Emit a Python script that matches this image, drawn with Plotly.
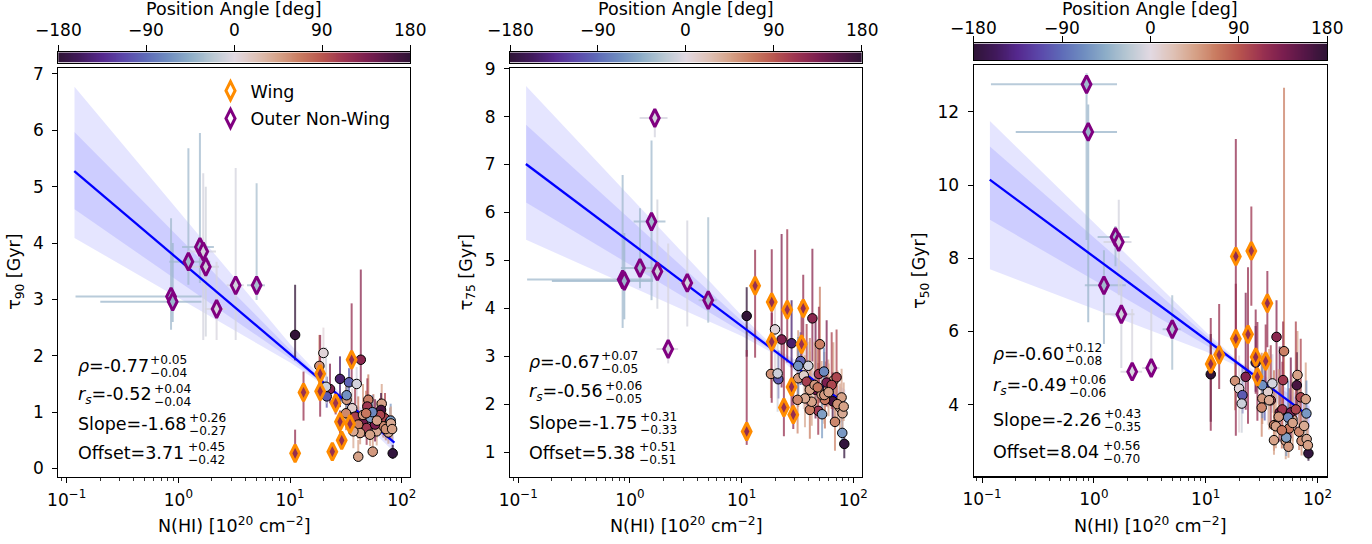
import numpy as np
import plotly.graph_objects as go

W, H = 1372, 544
# positions below are given in screenshot pixels (page body margin removed)
OFFX, OFFY = 0, 0

# ---------------- colour map (twilight_shifted) ----------------
CMAP_POS = [0.0, 0.0625, 0.125, 0.1875, 0.25, 0.3125, 0.375, 0.4375, 0.5,
            0.5625, 0.625, 0.6875, 0.75, 0.8125, 0.875, 0.9375, 1.0]
CMAP_HEX = ['#2f1436', '#41195c', '#55288e', '#5b48aa', '#5e6bb8', '#6f8dc0',
            '#8eaec8', '#b8c8d3', '#e2d9e2', '#dfc3b8', '#d6a288', '#c97b60',
            '#b8554e', '#9c3350', '#7b1e4f', '#541646', '#2f1436']

# ---------------- data: circles (all other sight-lines) ----------------
circ_nhi = [11.1, 18.3, 19.9, 22.8, 21.3, 21.0, 28.0, 33.7, 39.5, 43.0,
            32.1, 36.0, 50.2, 49.2, 66.2, 65.3, 38.2, 45.9, 55.7, 70.8,
            78.5, 48.5, 40.8, 42.4, 59.7, 68.5, 75.9, 52.0, 36.9, 40.8,
            55.0, 83.0, 31.7, 57.7, 64.0, 79.6, 32.1, 52.5, 54.6, 45.0,
            72.0, 60.0, 48.0, 80.0, 82.0]
circ_pa = [178, 55, 5, 130, -100, -12, -150, -95, -8, 125,
           50, 12, 65, 110, 45, 165, 105, 140, 70, 100,
           45, 110, 65, 45, 40, 60, 40, 45, 40, 45,
           50, -175, 60, 135, 100, -60, -65, -55, -70, 50,
           55, 45, 70, 40, 45]
circ_t90 = [2.37, 1.82, 2.05, 1.41, 1.28, 1.45, 1.59, 1.53, 1.50, 1.93,
            1.22, 1.07, 1.22, 1.10, 1.15, 1.04, 0.92, 0.86, 0.92, 0.89,
            0.83, 0.72, 0.78, 0.63, 0.66, 0.75, 0.64, 0.60, 0.66, 0.21,
            0.30, 0.27, 0.98, 0.78, 0.95, 0.85, 1.30, 0.90, 1.00, 0.95,
            0.70, 0.85, 0.98, 0.80, 0.70]
circ_t90_lo = [0.45, 0.35, 0.55, 0.25, 0.20, 0.30, 0.50, 0.20, 0.35, 0.45,
               0.20, 0.25, 0.30, 0.25, 0.30, 0.20, 0.25, 0.30, 0.35, 0.20,
               0.30, 0.30, 0.25, 0.20, 0.25, 0.20, 0.20, 0.20, 0.30, 0.05,
               0.10, 0.10, 0.30, 0.30, 0.25, 0.20, 0.25, 0.25, 0.25, 0.25,
               0.20, 0.30, 0.20, 0.20, 0.20]
circ_t90_hi = [0.89, 0.55, 0.45, 0.45, 0.35, 0.70, 0.40, 0.25, 0.30, 1.60,
               0.30, 0.35, 0.45, 0.50, 0.35, 0.30, 0.50, 0.35, 0.40, 0.45,
               0.25, 0.40, 0.50, 0.30, 0.35, 0.30, 0.25, 0.30, 0.40, 0.30,
               0.30, 0.15, 0.55, 0.45, 0.30, 0.30, 0.30, 0.30, 0.30, 0.55,
               0.30, 0.35, 0.40, 0.30, 0.25]
circ_t75 = [3.84, 2.63, 3.56, 3.35, 2.52, 2.64, 3.27, 2.90, 2.80, 3.79,
            2.54, 2.60, 3.25, 2.63, 2.49, 2.06, 2.47, 2.30, 2.09, 2.56,
            2.14, 1.86, 1.88, 2.05, 2.33, 1.63, 1.93, 2.20, 2.12, 2.30,
            2.19, 1.17, 2.09, 2.45, 2.40, 1.40, 2.80, 1.79, 2.68, 2.40,
            2.00, 2.25, 2.35, 1.81, 1.95]
circ_t75_lo = [0.85, 0.50, 0.90, 1.00, 0.40, 0.80, 0.50, 0.50, 0.60, 0.90,
               0.60, 0.70, 0.70, 0.60, 0.60, 0.40, 0.50, 0.60, 0.60, 0.50,
               0.50, 0.50, 0.60, 0.50, 0.40, 0.60, 0.50, 0.50, 0.60, 0.50,
               0.60, 0.30, 0.70, 0.50, 0.50, 0.30, 0.60, 0.50, 0.60, 0.50,
               0.40, 0.50, 0.50, 0.30, 0.30]
circ_t75_hi = [0.60, 1.00, 0.60, 2.20, 0.60, 0.70, 0.90, 0.60, 0.50, 1.45,
               1.00, 0.60, 1.20, 1.40, 0.80, 0.60, 1.20, 1.50, 0.80, 1.00,
               0.60, 1.00, 1.50, 0.80, 0.60, 0.80, 0.50, 0.70, 0.90, 0.80,
               0.90, 0.20, 1.20, 1.30, 1.10, 0.30, 0.60, 0.60, 0.50, 0.90,
               0.70, 0.60, 1.00, 0.40, 0.50]
circ_t50 = [4.83, 4.65, 4.44, 4.76, 4.26, 4.03, 5.15, 4.17, 4.58, 5.85,
            4.17, 4.35, 5.46, 4.67, 4.81, 4.53, 4.12, 3.79, 3.35, 4.20,
            4.15, 3.87, 3.44, 3.41, 3.60, 3.26, 3.42, 3.01, 4.12, 3.03,
            2.85, 2.67, 3.92, 3.79, 3.87, 3.76, 4.53, 3.10, 3.65, 3.67,
            3.01, 3.50, 3.30, 3.06, 2.89]
circ_t50_lo = [1.30, 0.80, 1.20, 0.90, 0.50, 0.80, 0.80, 0.60, 0.80, 1.20,
               0.70, 0.90, 0.90, 0.80, 0.80, 0.60, 0.70, 0.80, 0.60, 0.80,
               0.70, 0.70, 0.70, 0.60, 0.60, 0.50, 0.50, 0.50, 0.80, 0.40,
               0.30, 0.20, 0.80, 0.70, 0.70, 0.60, 0.90, 0.50, 0.80, 0.60,
               0.40, 0.60, 0.50, 0.30, 0.30]
circ_t50_hi = [1.10, 1.00, 0.90, 2.30, 0.80, 1.00, 1.00, 0.90, 0.80, 1.00,
               1.10, 0.80, 7.20, 1.60, 1.20, 0.90, 1.50, 1.80, 1.10, 1.60,
               1.00, 1.30, 1.50, 1.00, 1.20, 1.20, 0.80, 0.90, 1.40, 1.00,
               0.80, 0.30, 1.50, 1.50, 2.40, 0.90, 0.60, 0.80, 1.00, 1.30,
               0.80, 1.00, 1.20, 0.60, 0.60]

# ---------------- data: Wing ----------------
wing_nhi = [11.1, 13.2, 18.6, 18.6, 25.6, 35.6, 34.4, 28.0, 23.9, 29.0]
wing_pa = [118, 115, 120, 118, 112, 118, 115, 120, 116, 118]
wing_t90 = [0.27, 1.35, 1.68, 1.37, 1.16, 1.93, 0.79, 0.83, 0.30, 0.50]
wing_t90_lo = [0.11, 0.50, 0.30, 0.45, 0.20, 0.40, 0.15, 0.20, 0.10, 0.15]
wing_t90_hi = [0.42, 0.37, 0.69, 0.30, 0.20, 1.00, 0.15, 0.20, 0.10, 0.15]
wing_t75 = [1.43, 4.47, 4.13, 3.30, 3.97, 4.00, 3.25, 2.36, 1.93, 1.78]
wing_t75_lo = [0.28, 1.50, 0.60, 1.27, 1.10, 0.60, 0.50, 0.50, 0.60, 0.30]
wing_t75_hi = [1.70, 0.75, 1.10, 0.60, 1.68, 0.70, 0.90, 0.50, 1.50, 0.50]
wing_t50 = [5.11, 5.36, 8.05, 5.80, 8.20, 6.77, 5.19, 5.30, 5.92, 4.76]
wing_t50_lo = [1.82, 0.93, 2.20, 2.65, 1.50, 1.20, 0.80, 1.00, 2.44, 1.20]
wing_t50_hi = [1.26, 1.39, 3.21, 1.50, 1.21, 0.88, 1.00, 1.30, 1.83, 1.50]

# ---------------- data: Outer Non-Wing ----------------
nw_nhi = [0.86, 0.89, 1.23, 1.56, 1.67, 1.76, 2.20, 3.26, 5.02]
nw_nhi_lo = [0.74, 0.69, 0.40, 0.48, 0.45, 0.55, 0.47, 0.55, 0.90]
nw_nhi_hi = [0.75, 0.72, 0.70, 0.52, 0.50, 0.55, 0.50, 0.60, 0.95]
nw_pa = [-35, -38, -35, -35, -8, -10, -6, -8, -30]
nw_t90 = [3.05, 2.96, 3.67, 3.93, 3.85, 3.58, 2.83, 3.25, 3.25]
nw_t90_lo = [0.59, 0.36, 0.41, 0.64, 1.57, 1.24, 0.55, 0.97, 0.26]
nw_t90_hi = [1.39, 1.04, 2.01, 2.02, 1.39, 1.42, 0.84, 2.08, 1.81]
nw_t75 = [4.60, 4.57, 4.84, 5.81, 7.97, 4.77, 3.15, 4.53, 4.17]
nw_t75_lo = [1.01, 0.80, 0.42, 1.64, 0.40, 0.78, 0.30, 0.91, 0.47]
nw_t75_hi = [2.18, 1.00, 1.25, 1.69, 0.15, 1.50, 2.20, 1.30, 1.73]
nw_t50 = [12.75, 11.45, 7.26, 8.58, 8.44, 6.47, 4.90, 5.00, 6.06]
nw_t50_lo = [4.25, 5.20, 1.60, 0.80, 1.45, 1.47, 0.20, 0.10, 1.11]
nw_t50_hi = [0.30, 0.75, 0.96, 0.30, 1.16, 1.09, 1.71, 1.70, 0.93]

# ---------------- fits ----------------
fit_slope = [-1.68, -1.75, -2.26]
fit_offset = [3.71, 5.38, 8.04]
fit_nmin, fit_nmax = 0.117, 86.0
band_lognhi = [-0.93, 0.0, 1.0, 1.3, 1.93]
band_outer_hi = [[6.77, 4.57, 2.21, 1.58, 0.64],
                 [8.64, 6.33, 3.85, 3.17, 2.30],
                 [11.75, 8.97, 5.99, 5.17, 4.10]]
band_outer_lo = [[4.09, 3.03, 1.88, 1.48, 0.30],
                 [5.43, 4.46, 3.42, 3.04, 1.72],
                 [7.70, 6.62, 5.45, 5.03, 3.20]]
band_inner_hi = [[5.97, 4.11, 2.11, 1.55, 0.56],
                 [7.83, 5.86, 3.74, 3.14, 2.18],
                 [11.05, 8.57, 5.90, 5.14, 3.95]]
band_inner_lo = [[4.60, 3.32, 1.95, 1.50, 0.38],
                 [6.21, 4.91, 3.51, 3.07, 1.84],
                 [9.05, 7.40, 5.63, 5.07, 3.40]]

stat_rho = [('-0.77', '+0.05', '−0.04'), ('-0.67', '+0.07', '−0.05'), ('-0.60', '+0.12', '−0.08')]
stat_rs = [('-0.52', '+0.04', '−0.04'), ('-0.56', '+0.06', '−0.05'), ('-0.49', '+0.06', '−0.06')]
stat_slope = [('-1.68', '+0.26', '−0.27'), ('-1.75', '+0.31', '−0.33'), ('-2.26', '+0.43', '−0.35')]
stat_offset = [('3.71', '+0.45', '−0.42'), ('5.38', '+0.51', '−0.51'), ('8.04', '+0.56', '−0.70')]

ylabels = ['τ<sub>90</sub> [Gyr]', 'τ<sub>75</sub> [Gyr]', 'τ<sub>50</sub> [Gyr]']
yranges = [[-0.15, 7.11], [0.48, 9.02], [2.04, 13.27]]
yticks = [[0, 1, 2, 3, 4, 5, 6, 7], [1, 2, 3, 4, 5, 6, 7, 8, 9], [4, 6, 8, 10, 12]]
cb_ticks = [-180, -90, 0, 90, 180]
cb_ticktext = ['−180', '−90', '0', '90', '180']

# ---------------- layout geometry (screenshot pixels) ----------------
panels = [
    dict(x0=58.3, x1=410.0, y0=67.7, y1=477.0, cby0=52.3, cby1=62.7, xr=[-1.075, 2.074],
         txt_x=76.0, txt_y=[366, 395, 424, 453], ytitle_x=15.5, cbtitle_y=9, cblab_y=30),
    dict(x0=510.0, x1=861.7, y0=67.7, y1=477.0, cby0=52.3, cby1=62.7, xr=[-1.074, 2.075],
         txt_x=527.3, txt_y=[362, 392, 423, 453], ytitle_x=467.0, cbtitle_y=9, cblab_y=30),
    dict(x0=973.7, x1=1327.0, y0=65.3, y1=476.4, cby0=43.4, cby1=60.1, xr=[-1.075, 2.085],
         txt_x=991.3, txt_y=[354, 386, 420, 452], ytitle_x=921.0, cbtitle_y=8.5, cblab_y=28),
]


def fx(px):
    return (px - OFFX) / W


def fy(py):
    return 1 - (py - OFFY) / H


def hex2rgb(h):
    h = h.lstrip('#')
    return tuple(int(h[i:i + 2], 16) for i in (0, 2, 4))


CMAP_RGB = [hex2rgb(c) for c in CMAP_HEX]
COLORSCALE = [[p, c] for p, c in zip(CMAP_POS, CMAP_HEX)]


def pa_color(pa, alpha=1.0):
    t = min(max((pa + 180.0) / 360.0, 0.0), 1.0)
    for i in range(len(CMAP_POS) - 1):
        if CMAP_POS[i] <= t <= CMAP_POS[i + 1]:
            f = (t - CMAP_POS[i]) / (CMAP_POS[i + 1] - CMAP_POS[i])
            a, b = CMAP_RGB[i], CMAP_RGB[i + 1]
            r, g, bb = [round(a[k] + f * (b[k] - a[k])) for k in range(3)]
            return f'rgba({r},{g},{bb},{alpha})'
    return 'rgba(0,0,0,1)'


circ_t = [circ_t90, circ_t75, circ_t50]
circ_lo = [circ_t90_lo, circ_t75_lo, circ_t50_lo]
circ_hi = [circ_t90_hi, circ_t75_hi, circ_t50_hi]
wing_t = [wing_t90, wing_t75, wing_t50]
wing_lo = [wing_t90_lo, wing_t75_lo, wing_t50_lo]
wing_hi = [wing_t90_hi, wing_t75_hi, wing_t50_hi]
nw_t = [nw_t90, nw_t75, nw_t50]
nw_lo = [nw_t90_lo, nw_t75_lo, nw_t50_lo]
nw_hi = [nw_t90_hi, nw_t75_hi, nw_t50_hi]

FONT = 'DejaVu Sans'
fig = go.Figure()
annotations = []
layout_axes = {}

minor_vals = [m * 10.0 ** e for e in (-2, -1, 0, 1, 2) for m in range(2, 10)]


def ann(x, y, text, size, xanchor='left', yanchor='middle', angle=0, xref='paper'):
    annotations.append(dict(x=fx(x) if xref == 'paper' else x, y=fy(y), xref=xref, yref='paper',
                            text=text, showarrow=False, xanchor=xanchor, yanchor=yanchor,
                            textangle=angle, font=dict(size=size, color='black', family=FONT)))


for p, P in enumerate(panels):
    xa = 'x' if p == 0 else f'x{p + 1}'
    ya = 'y' if p == 0 else f'y{p + 1}'
    cxa = f'x{p + 4}'
    cya = f'y{p + 4}'
    bx = [10 ** v for v in band_lognhi]

    # uncertainty bands of the fit
    for hi, lo in ((band_outer_hi[p], band_outer_lo[p]), (band_inner_hi[p], band_inner_lo[p])):
        fig.add_trace(go.Scatter(x=bx + bx[::-1], y=hi + lo[::-1], mode='lines', fill='toself',
                                 fillcolor='rgba(0,0,255,0.1)', line=dict(width=0),
                                 hoverinfo='skip', showlegend=False, xaxis=xa, yaxis=ya))

    # error bars
    for n, pa, t, lo, hi in zip(circ_nhi, circ_pa, circ_t[p], circ_lo[p], circ_hi[p]):
        fig.add_trace(go.Scatter(x=[n, n], y=[t - lo, t + hi], mode='lines',
                                 line=dict(color=pa_color(pa, 0.75), width=2),
                                 hoverinfo='skip', showlegend=False, xaxis=xa, yaxis=ya))
    for n, pa, t, lo, hi in zip(wing_nhi, wing_pa, wing_t[p], wing_lo[p], wing_hi[p]):
        fig.add_trace(go.Scatter(x=[n, n], y=[t - lo, t + hi], mode='lines',
                                 line=dict(color=pa_color(pa, 0.75), width=2),
                                 hoverinfo='skip', showlegend=False, xaxis=xa, yaxis=ya))
    for n, nlo, nhi, pa, t, lo, hi in zip(nw_nhi, nw_nhi_lo, nw_nhi_hi, nw_pa, nw_t[p], nw_lo[p], nw_hi[p]):
        fig.add_trace(go.Scatter(x=[n, n, None, n - nlo, n + nhi], y=[t - lo, t + hi, None, t, t],
                                 mode='lines', line=dict(color=pa_color(pa, 0.75), width=2),
                                 hoverinfo='skip', showlegend=False, xaxis=xa, yaxis=ya))

    # fit line
    xf = np.logspace(np.log10(fit_nmin), np.log10(fit_nmax), 60)
    fig.add_trace(go.Scatter(x=xf, y=fit_offset[p] + fit_slope[p] * np.log10(xf), mode='lines',
                             line=dict(color='#0000ff', width=2.3), hoverinfo='skip',
                             showlegend=False, xaxis=xa, yaxis=ya))

    # circles
    fig.add_trace(go.Scatter(x=circ_nhi, y=circ_t[p], mode='markers',
                             marker=dict(symbol='circle', size=9.5, color=[pa_color(v) for v in circ_pa],
                                         line=dict(color='black', width=1)),
                             showlegend=False, xaxis=xa, yaxis=ya))
    # wing diamonds
    fig.add_trace(go.Scatter(x=wing_nhi, y=wing_t[p], mode='markers',
                             marker=dict(symbol='diamond-tall', size=12.5,
                                         color=[pa_color(v) for v in wing_pa],
                                         line=dict(color='#ff8c00', width=3)),
                             showlegend=False, xaxis=xa, yaxis=ya))
    # non-wing diamonds
    fig.add_trace(go.Scatter(x=nw_nhi, y=nw_t[p], mode='markers',
                             marker=dict(symbol='diamond-tall', size=12.5,
                                         color=[pa_color(v) for v in nw_pa],
                                         line=dict(color='#800080', width=3)),
                             showlegend=False, xaxis=xa, yaxis=ya))

    # colour bar
    zz = np.linspace(-180, 180, 361)
    fig.add_trace(go.Heatmap(z=[zz], x=zz, y=[0.5], colorscale=COLORSCALE, zmin=-180, zmax=180,
                             showscale=False, hoverinfo='skip', xaxis=cxa, yaxis=cya))

    xdom = [fx(P['x0']), fx(P['x1'])]
    common = dict(showline=True, linecolor='black', linewidth=1.1, mirror=True, ticks='outside',
                  ticklen=5, tickwidth=1.0, tickcolor='black', showgrid=False, zeroline=False,
                  automargin=False, tickfont=dict(size=17, color='black', family=FONT))
    kx = 'xaxis' if p == 0 else f'xaxis{p + 1}'
    ky = 'yaxis' if p == 0 else f'yaxis{p + 1}'
    layout_axes[kx] = dict(common, domain=xdom, anchor=ya, type='log', range=P['xr'],
                           tickvals=[0.1, 1, 10, 100],
                           ticktext=['10<sup>−1</sup>', '10<sup>0</sup>', '10<sup>1</sup>', '10<sup>2</sup>'],
                           ticklabelstandoff=2,
                           minor=dict(ticks='outside', ticklen=3, tickwidth=0.8, tickcolor='black',
                                      tickvals=minor_vals, showgrid=False))
    layout_axes[ky] = dict(common, domain=[fy(P['y1']), fy(P['y0'])], anchor=xa, range=yranges[p],
                           tickvals=yticks[p], ticklabelstandoff=5)
    layout_axes[f'xaxis{p + 4}'] = dict(common, domain=xdom, anchor=cya, range=[-180, 180], side='top',
                                        tickvals=cb_ticks, ticklen=6, showticklabels=False)
    layout_axes[f'yaxis{p + 4}'] = dict(domain=[fy(P['cby1']), fy(P['cby0'])], anchor=cxa, range=[0, 1],
                                        showline=True, linecolor='black', linewidth=1.1, mirror=True,
                                        ticks='', showticklabels=False, showgrid=False, zeroline=False,
                                        automargin=False, fixedrange=True)

    # colour-bar tick labels (placed on the colour-bar axis scale)
    for v, txt in zip(cb_ticks, cb_ticktext):
        ann(v, P['cblab_y'], txt, 17, xanchor='center', xref=cxa)

    cx = 0.5 * (P['x0'] + P['x1'])
    cy = 0.5 * (P['y0'] + P['y1'])
    ann(cx, P['cbtitle_y'], 'Position Angle [deg]', 17.5, xanchor='center')
    ann(cx, 525, 'N(HI) [10<sup>20</sup> cm<sup>−2</sup>]', 17.5, xanchor='center')
    ann(P['ytitle_x'], cy, ylabels[p], 17.5, xanchor='center', angle=-90)

    rows = [('<i>ρ</i>=', stat_rho[p], 72),
            ('<i>r</i><sub><i>s</i></sub>=', stat_rs[p], 76),
            ('Slope=', stat_slope[p], 111),
            ('Offset=', stat_offset[p], 109.5)]
    for (lab, (val, sup, sub), off), ty in zip(rows, P['txt_y']):
        ann(P['txt_x'], ty, lab + val, 17.5)
        ann(P['txt_x'] + off, ty - 5.7, sup, 12.2)
        ann(P['txt_x'] + off, ty + 6.8, sub, 12.2)

# legend entries
fig.add_trace(go.Scatter(x=[None], y=[None], mode='markers', name='Wing', legendgroup='a',
                         marker=dict(symbol='diamond-tall', size=13, color='white',
                                     line=dict(color='#ff8c00', width=3)), xaxis='x', yaxis='y'))
fig.add_trace(go.Scatter(x=[None], y=[None], mode='markers', name='Outer Non-Wing', legendgroup='b',
                         marker=dict(symbol='diamond-tall', size=13, color='white',
                                     line=dict(color='#800080', width=3)), xaxis='x', yaxis='y'))

fig.update_layout(
    template='none',
    width=W, height=H, autosize=False,
    margin=dict(l=0, r=0, t=0, b=0, pad=0, autoexpand=False),
    paper_bgcolor='white', plot_bgcolor='white',
    font=dict(family=FONT, size=17, color='black'),
    showlegend=True,
    legend=dict(x=fx(210.5), y=fy(72.8), xanchor='left', yanchor='top', bgcolor='rgba(0,0,0,0)',
                borderwidth=0, font=dict(size=17.5, family=FONT, color='black'), tracegroupgap=2),
    annotations=annotations,
    **layout_axes,
)

fig.write_html('out.html',
               config={'displayModeBar': False, 'staticPlot': True},
               post_script="document.body.style.margin='0';document.body.style.padding='0';"
                           "document.documentElement.style.overflow='hidden';")
